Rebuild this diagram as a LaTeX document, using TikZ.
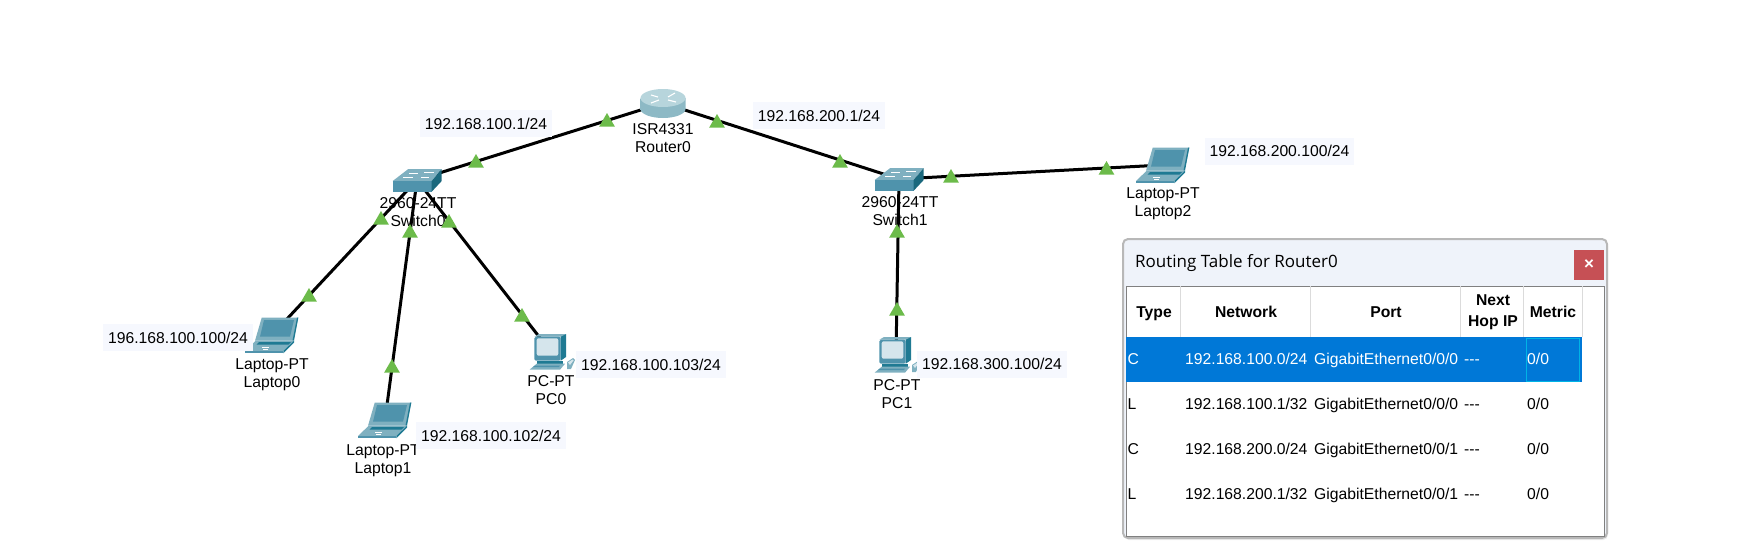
\documentclass[tikz,border=0pt]{standalone}
\usepackage{fontspec}
\setmainfont{Liberation Sans}
\newfontfamily\titlefont{Open Sans}
\usetikzlibrary{shapes.geometric,shadows}

\definecolor{linkgreen}{HTML}{6CBB4A}
\definecolor{labelbg}{HTML}{F6F8FE}
\definecolor{titlebg}{HTML}{EFF3FA}
\definecolor{closered}{HTML}{C65055}
\definecolor{rowblue}{HTML}{0078D7}
\definecolor{focuscyan}{HTML}{00B4E6}
\definecolor{iconmid}{HTML}{4F93AC}
\definecolor{icondark}{HTML}{1F7A93}
\definecolor{iconlight}{HTML}{7FB0C0}
\definecolor{iconpale}{HTML}{D5E5EC}
\definecolor{routertop}{HTML}{B7D5DC}
\definecolor{routerside}{HTML}{8DB9C5}

\tikzset{
  devnode/.style={inner sep=0pt, minimum size=0pt},
  devtext/.style={align=center, inner sep=0pt, font=\fontsize{15.7}{18}\selectfont},
  link/.style={line width=3pt, black},
  linkup/.style={regular polygon, regular polygon sides=3, fill=linkgreen, inner sep=0pt, minimum size=18pt},
  iplabel/.style={fill=labelbg, inner xsep=5pt, inner ysep=0pt, minimum height=27pt, font=\fontsize{15.7}{18}\selectfont},
  headcell/.style={align=center, inner sep=0pt, font=\fontsize{15.7}{21}\selectfont\bfseries},
  datacell/.style={anchor=west, inner sep=0pt, text height=11.5pt, text depth=3pt, font=\fontsize{15.7}{18}\selectfont},
  pics/router/.style={code={
    \shade[left color=routerside, middle color=white!92!routerside, right color=routerside]
      (-22.5,6) .. controls (-22.5,11) and (-12.4,15) .. (0,15) .. controls (12.4,15) and (22.5,11) .. (22.5,6)
      -- (22.5,-5) -- (-22.5,-5) -- cycle;
    \fill[routertop] (0,-5) ellipse (22.5 and 9);
    \draw[white, line width=1.1pt] (-12,-8) -- (-5,-6) (12,-10) -- (5,-6) (-12,0) -- (-4,-3) (13,-1) -- (5,-3);
  }},
  pics/switchbox/.style={code={
    \fill[iconlight] (-8.7,-11) -- (24.7,-11) -- (14.7,1) -- (-24.3,1) -- cycle;
    \fill[iconmid] (-24.3,1) -- (14.7,1) -- (14.7,11.7) -- (-24.3,11.7) -- cycle;
    \fill[icondark!85!black] (14.7,1) -- (24.7,-11) -- (24.7,1) -- (14.7,11.7) -- cycle;
    \draw[white, line width=0.8pt] (-8,-7) -- (1,-7) (7,-8) -- (17,-8) (-14,-3) -- (-4,-3) (4,-3) -- (12,-3);
  }},
  pics/laptop/.style={code={
    \fill[iconlight] (-10.3,-17.3) -- (26.3,-17.3) -- (21.3,5.7) -- (-17,5.7) -- cycle;
    \fill[iconmid] (-8,-15) -- (22,-15) -- (18,1.7) -- (-12,1.7) -- cycle;
    \fill[icondark] (22,5.7) -- (26.3,-17.3) -- (25,-17.3) -- (20.5,5.7) -- cycle;
    \fill[iconlight] (-27,16) -- (-16.3,5.7) -- (22,5.7) -- (11.3,16) -- cycle;
    \fill[iconmid] (-27,16) -- (11.3,16) -- (11.3,18.3) -- (-27,18.3) -- cycle;
    \fill[icondark] (11.3,16) -- (22,5.7) -- (22,7.7) -- (11.3,18.3) -- cycle;
    \fill[icondark] (-13,7) -- (19,7) -- (16.5,9.5) -- (-15.5,9.5) -- cycle;
    \draw[white, line width=0.7pt] (-10,12) -- (-3,12) (-9,14.5) -- (-4,14.5);
  }},
  pics/pcbox/.style={code={
    \fill[iconlight] (-16.7,-15.3) -- (-12,-18) -- (15,-18) -- (9.7,-15.3) -- cycle;
    \fill[icondark] (9.7,-15.3) -- (15,-18) -- (15,5) -- (9.7,8.7) -- cycle;
    \fill[iconmid, rounded corners=1.5pt] (-16.7,-15.3) rectangle (9.7,8.7);
    \fill[iconpale, rounded corners=2pt] (-14.3,-13.7) rectangle (7.3,3.7);
    \fill[icondark] (-14.3,8.7) rectangle (12.3,11.7);
    \fill[iconlight] (-21.5,17.7) -- (-14.3,11.7) -- (14,11.7) -- (9,17.7) -- cycle;
    \fill[iconmid] (-16,13.5) -- (9,13.5) -- (8,15) -- (-18,15) -- cycle;
    \fill[iconlight] (16,10) -- (22,6) -- (24,8) -- (20,17) -- (16,17) -- cycle;
    \fill[iconpale] (17,10.5) -- (21.5,7.5) -- (22.5,8.5) -- (19,13) -- cycle;
  }}
}

\begin{document}
\begin{tikzpicture}[x=1pt, y=-1pt]
  \useasboundingbox (0,0) rectangle (1758,544);

  % devices
  \node[devnode] (router0) at (663,103) {};
  \node[devnode] (switch0) at (417,180) {};
  \node[devnode] (switch1) at (899,179) {};
  \node[devnode] (laptop0) at (272,335) {};
  \node[devnode] (laptop1) at (385,420) {};
  \node[devnode] (laptop2) at (1163,165) {};
  \node[devnode] (pc0) at (551,352) {};
  \node[devnode] (pc1) at (896,355) {};

  % links
  \draw[link] (router0.center) -- (switch0.center);
  \draw[link] (router0.center) -- (switch1.center);
  \draw[link] (switch0.center) -- (laptop0.center);
  \draw[link] (switch0.center) -- (laptop1.center);
  \draw[link] (switch0.center) -- (pc0.center);
  \draw[link] (switch1.center) -- (laptop2.center);
  \draw[link] (switch1.center) -- (pc1.center);

  % icons
  \pic at (router0) {router};
  \pic at (switch0) {switchbox};
  \pic at (switch1) {switchbox};
  \pic at (laptop0) {laptop};
  \pic at (laptop1) {laptop};
  \pic at (laptop2) {laptop};
  \pic at (pc0) {pcbox};
  \pic at (pc1) {pcbox};

  % device names
  \node[devtext] (router0text) at (663,138.5) {ISR4331\\Router0};
  \node[devtext] (switch0text) at (418,212) {2960-24TT\\Switch0};
  \node[devtext] (switch1text) at (900,211) {2960-24TT\\Switch1};
  \node[devtext] (laptop0text) at (272,375) {Laptop-PT\\Laptop0};
  \node[devtext] (laptop1text) at (383,461) {Laptop-PT\\Laptop1};
  \node[devtext] (laptop2text) at (1163,204) {Laptop-PT\\Laptop2};
  \node[devtext] (pc0text) at (551,390) {PC-PT\\PC0};
  \node[devtext] (pc1text) at (897,394.5) {PC-PT\\PC1};

  % link lights
  \node[linkup] (light1) at (607,122) {};
  \node[linkup] (light2) at (476,163) {};
  \node[linkup] (light3) at (717,123) {};
  \node[linkup] (light4) at (840,163) {};
  \node[linkup] (light5) at (951,178) {};
  \node[linkup] (light6) at (1106.5,170) {};
  \node[linkup] (light7) at (381,220) {};
  \node[linkup] (light8) at (309,297) {};
  \node[linkup] (light9) at (410,233) {};
  \node[linkup] (light10) at (392,368) {};
  \node[linkup] (light11) at (449,223) {};
  \node[linkup] (light12) at (522,317) {};
  \node[linkup] (light13) at (897,233) {};
  \node[linkup] (light14) at (897,311) {};

  % addresses
  \node[iplabel] (ip1) at (486,123.5) {192.168.100.1/24};
  \node[iplabel] (ip2) at (819,115.5) {192.168.200.1/24};
  \node[iplabel] (ip3) at (1279.5,151) {192.168.200.100/24};
  \node[iplabel] (ip4) at (178,337.5) {196.168.100.100/24};
  \node[iplabel] (ip5) at (491,435.5) {192.168.100.102/24};
  \node[iplabel] (ip6) at (651,364.5) {192.168.100.103/24};
  \node[iplabel] (ip7) at (992,364) {192.168.300.100/24};

  % routing table window
  \node[draw=black!28, line width=2pt, fill=titlebg, rounded corners=5pt, inner sep=0pt,
    minimum width=484pt, minimum height=299pt,
    drop shadow={opacity=0.15, shadow xshift=1pt, shadow yshift=-2pt}] (window) at (1365,388.5) {};
  \node[anchor=west, inner sep=0pt, font=\titlefont\fontsize{17}{18}\selectfont] (wintitle) at (1135,263.5) {Routing Table for Router0};
  \node[fill=closered, inner sep=0pt, minimum size=30pt] (closebtn) at (1589,265) {};
  \node[text=white, inner sep=0pt, font=\fontsize{17}{18}\selectfont\bfseries] (closex) at (closebtn) {×};
  \node[draw=black!50, line width=0.9pt, fill=white, inner sep=0pt, minimum width=478pt, minimum height=250pt] (tablebox) at (1365,411) {};

  % header separators
  \coordinate (sep1top) at (1180,286);
  \coordinate (sep1bot) at (1180,337);
  \coordinate (sep2top) at (1310,286);
  \coordinate (sep2bot) at (1310,337);
  \coordinate (sep3top) at (1460,286);
  \coordinate (sep3bot) at (1460,337);
  \coordinate (sep4top) at (1523,286);
  \coordinate (sep4bot) at (1523,337);
  \coordinate (sep5top) at (1582,286);
  \coordinate (sep5bot) at (1582,337);
  \draw[black!14, line width=0.8pt] (sep1top) -- (sep1bot);
  \draw[black!14, line width=0.8pt] (sep2top) -- (sep2bot);
  \draw[black!14, line width=0.8pt] (sep3top) -- (sep3bot);
  \draw[black!14, line width=0.8pt] (sep4top) -- (sep4bot);
  \draw[black!14, line width=0.8pt] (sep5top) -- (sep5bot);

  % header
  \node[headcell, anchor=base] (headtype) at (1154,317) {Type};
  \node[headcell, anchor=base] (headnet) at (1246,317) {Network};
  \node[headcell, anchor=base] (headport) at (1386,317) {Port};
  \node[headcell] (headhop) at (1493,312.5) {Next\\Hop IP};
  \node[headcell, anchor=base] (headmetric) at (1553,317) {Metric};

  % selected row
  \node[fill=rowblue, inner sep=0pt, minimum width=456pt, minimum height=45pt] (rowsel) at (1354,359.5) {};
  \node[draw=focuscyan, line width=0.8pt, inner sep=0pt, minimum width=53pt, minimum height=43pt] (cellsel) at (1553,359.5) {};

  % rows
  \node[datacell, text=white] (rowatype) at (1127.5,360) {C};
  \node[datacell, text=white] (rowanet) at (1185,360) {192.168.100.0/24};
  \node[datacell, text=white] (rowaport) at (1314,360) {GigabitEthernet0/0/0};
  \node[datacell, text=white] (rowahop) at (1464,360) {-{}-{}-};
  \node[datacell, text=white] (rowametric) at (1527,360) {0/0};

  \node[datacell] (rowbtype) at (1127.5,405) {L};
  \node[datacell] (rowbnet) at (1185,405) {192.168.100.1/32};
  \node[datacell] (rowbport) at (1314,405) {GigabitEthernet0/0/0};
  \node[datacell] (rowbhop) at (1464,405) {-{}-{}-};
  \node[datacell] (rowbmetric) at (1527,405) {0/0};

  \node[datacell] (rowctype) at (1127.5,450) {C};
  \node[datacell] (rowcnet) at (1185,450) {192.168.200.0/24};
  \node[datacell] (rowcport) at (1314,450) {GigabitEthernet0/0/1};
  \node[datacell] (rowchop) at (1464,450) {-{}-{}-};
  \node[datacell] (rowcmetric) at (1527,450) {0/0};

  \node[datacell] (rowdtype) at (1127.5,495) {L};
  \node[datacell] (rowdnet) at (1185,495) {192.168.200.1/32};
  \node[datacell] (rowdport) at (1314,495) {GigabitEthernet0/0/1};
  \node[datacell] (rowdhop) at (1464,495) {-{}-{}-};
  \node[datacell] (rowdmetric) at (1527,495) {0/0};
\end{tikzpicture}
\end{document}
